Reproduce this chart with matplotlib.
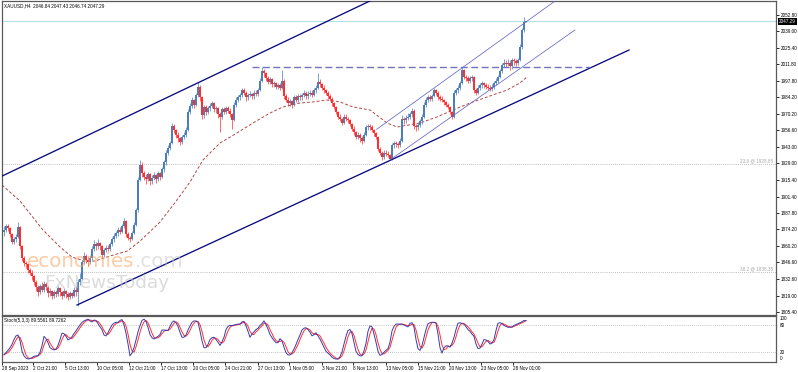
import numpy as np
import matplotlib
matplotlib.use("Agg")
import matplotlib.pyplot as plt
from matplotlib import font_manager
from matplotlib.transforms import blended_transform_factory

# ---------------- data ----------------
symbol = "XAUUSD,H4"
header_ohlc = ["2046.84", "2047.43", "2046.74", "2047.29"]
first_open = 1872.0

closes = [
    1874, 1877, 1875, 1870, 1864, 1866, 1868, 1876, 1860, 1850,
    1846, 1845, 1840, 1838, 1835, 1830, 1826, 1822, 1827, 1824,
    1829, 1826, 1821, 1823, 1819, 1822, 1820, 1825, 1822, 1819,
    1823, 1820, 1818, 1821, 1819, 1824, 1822, 1830, 1833, 1847,
    1852, 1849, 1847, 1850, 1858, 1862, 1860, 1863, 1860, 1853,
    1857, 1859, 1858, 1862, 1866, 1869, 1871, 1874, 1872, 1877,
    1881, 1870, 1867, 1866, 1871, 1878, 1890, 1915, 1928, 1921,
    1918, 1916, 1920, 1914, 1917, 1919, 1916, 1921, 1918, 1924,
    1930, 1938, 1942, 1946, 1960, 1957, 1953, 1950, 1947, 1951,
    1953, 1957, 1972, 1977, 1982, 1978, 1986, 1993, 1984, 1969,
    1976, 1972, 1975, 1977, 1979, 1974, 1975, 1970, 1968, 1974,
    1972, 1975, 1973, 1970, 1965, 1978, 1982, 1984, 1986, 1990,
    1988, 1984, 1986, 1987, 1985, 1988, 1987, 1990, 1998, 2006,
    2004, 2000, 1997, 1999, 1995, 1996, 1993, 1994, 1992, 1998,
    1985, 1982, 1979, 1981, 1978, 1984, 1982, 1985, 1984, 1986,
    1988, 1985, 1987, 1988, 1986, 1990, 1992, 1997, 1995, 1992,
    1990, 1988, 1985, 1983, 1979, 1976, 1972, 1968, 1966, 1963,
    1968, 1966, 1965, 1962, 1958, 1955, 1951, 1953, 1950, 1948,
    1953, 1959, 1960, 1959, 1957, 1954, 1951, 1941, 1938, 1934,
    1938, 1937, 1936, 1933, 1944, 1946, 1945, 1944, 1948, 1966,
    1965, 1967, 1968, 1970, 1973, 1960, 1959, 1961, 1964, 1968,
    1978, 1982, 1984, 1983, 1985, 1990, 1988, 1984, 1983, 1982,
    1980, 1978, 1976, 1972, 1968, 1988, 1990, 1992, 1996, 2007,
    2001, 2000, 1998, 2000, 2001, 1990, 1988, 1992, 1994, 1996,
    1994, 1993, 1992, 1991, 1993, 1996, 1998, 2001, 2006, 2011,
    2013, 2012, 2013, 2010, 2015, 2014, 2013, 2015, 2026, 2040,
    2046.84, 2047.29,
]

highs = [
    1877, 1879, 1879, 1876, 1871, 1868, 1870, 1880, 1877, 1861,
    1852, 1848, 1846, 1842, 1840, 1836, 1832, 1828, 1829, 1830,
    1831, 1830, 1827, 1825, 1824, 1824, 1824, 1827, 1826, 1823,
    1825, 1824, 1822, 1823, 1822, 1826, 1827, 1833, 1838, 1849,
    1855, 1854, 1851, 1853, 1860, 1865, 1864, 1866, 1864, 1861,
    1859, 1861, 1861, 1864, 1868, 1871, 1873, 1876, 1876, 1879,
    1884, 1882, 1872, 1869, 1873, 1880, 1892, 1918, 1932, 1930,
    1923, 1920, 1922, 1921, 1919, 1922, 1920, 1923, 1922, 1926,
    1932, 1940, 1944, 1948, 1963, 1962, 1958, 1955, 1951, 1953,
    1955, 1959, 1974, 1979, 1984, 1983, 1988, 1997, 1994, 1985,
    1978, 1978, 1977, 1979, 1981, 1980, 1977, 1976, 1972, 1976,
    1976, 1977, 1977, 1975, 1971, 1980, 1984, 1986, 1988, 1992,
    1992, 1989, 1988, 1989, 1988, 1990, 1990, 1992, 2000, 2009,
    2008, 2005, 2002, 2001, 2000, 1998, 1997, 1996, 1996, 2007,
    1999, 1987, 1984, 1983, 1982, 1986, 1986, 1987, 1987, 1988,
    1990, 1989, 1989, 1990, 1990, 1992, 1994, 2004, 1999, 1996,
    1994, 1991, 1989, 1987, 1984, 1980, 1977, 1973, 1970, 1967,
    1970, 1970, 1968, 1966, 1963, 1960, 1956, 1955, 1954, 1952,
    1955, 1961, 1962, 1962, 1961, 1958, 1955, 1952, 1943, 1939,
    1940, 1940, 1939, 1937, 1946, 1948, 1948, 1947, 1950, 1969,
    1968, 1969, 1971, 1972, 1975, 1974, 1962, 1963, 1966, 1970,
    1980, 1984, 1986, 1986, 1987, 1992, 1991, 1989, 1986, 1985,
    1983, 1981, 1979, 1977, 1973, 1990, 1992, 1994, 1998, 2009,
    2008, 2003, 2002, 2002, 2003, 2002, 1992, 1994, 1996, 1998,
    1997, 1996, 1995, 1994, 1995, 1998, 2000, 2003, 2008, 2013,
    2016, 2015, 2016, 2015, 2017, 2017, 2016, 2017, 2028, 2042,
    2051, 2047.43,
]

lows = [
    1869, 1872, 1873, 1868, 1862, 1862, 1864, 1867, 1858, 1848,
    1844, 1842, 1838, 1836, 1832, 1828, 1823, 1819, 1820, 1822,
    1822, 1824, 1818, 1819, 1816, 1817, 1818, 1819, 1819, 1816,
    1818, 1817, 1815, 1816, 1817, 1818, 1819, 1810, 1828, 1832,
    1845, 1846, 1844, 1845, 1849, 1856, 1857, 1858, 1857, 1851,
    1851, 1855, 1856, 1856, 1860, 1864, 1867, 1869, 1870, 1871,
    1875, 1868, 1865, 1864, 1865, 1870, 1877, 1889, 1914, 1918,
    1915, 1912, 1914, 1911, 1912, 1915, 1913, 1914, 1915, 1917,
    1922, 1928, 1936, 1940, 1945, 1954, 1950, 1947, 1944, 1945,
    1949, 1951, 1956, 1970, 1975, 1975, 1977, 1984, 1981, 1966,
    1967, 1969, 1970, 1973, 1975, 1972, 1971, 1967, 1955, 1966,
    1970, 1970, 1971, 1968, 1958, 1964, 1976, 1980, 1982, 1984,
    1986, 1981, 1982, 1984, 1983, 1983, 1985, 1985, 1989, 1997,
    2001, 1998, 1995, 1995, 1993, 1993, 1991, 1991, 1990, 1991,
    1983, 1980, 1977, 1977, 1975, 1977, 1980, 1980, 1982, 1982,
    1984, 1983, 1983, 1985, 1984, 1985, 1988, 1991, 1993, 1990,
    1988, 1986, 1983, 1981, 1977, 1974, 1970, 1966, 1964, 1961,
    1962, 1964, 1963, 1960, 1956, 1953, 1949, 1949, 1947, 1945,
    1947, 1952, 1957, 1957, 1955, 1952, 1949, 1939, 1936, 1932,
    1933, 1935, 1934, 1931.5, 1932, 1942, 1943, 1942, 1943, 1947,
    1962, 1963, 1965, 1966, 1968, 1958, 1956, 1957, 1959, 1962,
    1967, 1976, 1980, 1981, 1981, 1984, 1986, 1982, 1981, 1980,
    1978, 1976, 1974, 1970, 1966, 1967, 1986, 1988, 1990, 1995,
    1999, 1998, 1996, 1996, 1998, 1988, 1986, 1987, 1990, 1992,
    1992, 1991, 1990, 1989, 1989, 1991, 1994, 1996, 2000, 2004,
    2009, 2009, 2010, 2007, 2008, 2011, 2010, 2011, 2014, 2024,
    2038, 2046.74,
]

# moving average (dashed) sampled along the chart: bar position / value
ma_bars = [-1, 8, 19.5, 28, 34, 40.5, 45.5, 53, 61.5, 68, 78, 86.5, 93, 99.5,
           108, 116.5, 124.5, 133, 139.5, 148, 154.5, 161.5, 168, 174.5, 183,
           191.5, 196.5, 208, 216.5, 224.5, 233, 241.5, 251.5, 258, 261.5]
ma_values = [1911, 1897.8, 1873.6, 1859.5, 1851.1, 1847.8, 1847.8, 1852, 1856,
             1864.4, 1880.2, 1898.6, 1913.6, 1931.9, 1946, 1954.4, 1962.7, 1971,
             1976, 1979.3, 1980.2, 1981.8, 1980.2, 1976, 1973.5, 1962.7, 1959.3,
             1962.7, 1967.7, 1973.5, 1979.3, 1984.3, 1990.1, 1996, 2001]

stoch_k = [
    15, 19, 24, 30, 37, 48, 56, 58, 46, 22, 12, 7, 5, 6, 8, 11, 12, 12, 20, 34,
    55, 50, 41, 30, 27, 25, 27, 35, 48, 62, 61, 55, 47, 50, 54, 61, 67, 74, 80, 86,
    89, 91, 93, 89, 87, 91, 90, 83, 76, 70, 58, 56, 63, 72, 80, 84, 86, 86, 90, 92,
    80, 62, 38, 12, 18, 30, 47, 65, 79, 90, 93, 88, 75, 59, 52, 49, 52, 55, 59, 69,
    69, 68, 68, 77, 86, 89, 85, 77, 64, 53, 53, 58, 69, 78, 86, 89, 89, 86, 67, 45,
    30, 30, 37, 48, 52, 53, 48, 42, 35, 43, 53, 70, 77, 79, 79, 80, 81, 82, 82, 87,
    88, 78, 66, 53, 60, 65, 70, 73, 79, 83, 89, 81, 71, 59, 52, 46, 41, 41, 50, 45,
    31, 19, 14, 14, 19, 27, 37, 48, 58, 69, 73, 74, 70, 64, 56, 59, 63, 56, 49, 40,
    31, 22, 18, 14, 9, 6, 5, 5, 10, 21, 38, 55, 68, 70, 61, 41, 22, 15, 12, 12,
    23, 40, 66, 78, 76, 60, 42, 22, 13, 15, 20, 24, 28, 42, 67, 77, 82, 82, 82, 82,
    80, 78, 76, 84, 85, 75, 48, 28, 24, 35, 53, 70, 83, 85, 86, 86, 84, 60, 30, 18,
    30, 34, 34, 31, 40, 53, 70, 84, 85, 83, 82, 76, 70, 66, 60, 55, 38, 28, 29, 38,
    48, 47, 44, 38, 40, 48, 68, 84, 85, 83, 79, 77, 75, 75, 76, 79, 81, 83, 85, 87,
    90, 89.5561,
]
stoch_d = [
    14, 17, 19, 24, 30, 38, 47, 54, 53, 42, 27, 14, 8, 6, 6, 8, 10, 12, 15, 22,
    36, 46, 49, 40, 33, 27, 26, 29, 37, 48, 57, 59, 54, 51, 50, 55, 61, 67, 74, 80,
    85, 89, 91, 91, 90, 89, 89, 88, 83, 76, 68, 61, 59, 64, 72, 79, 83, 85, 87, 89,
    87, 78, 60, 37, 23, 20, 32, 47, 64, 78, 87, 90, 85, 74, 62, 53, 51, 52, 55, 61,
    66, 69, 68, 71, 77, 84, 87, 84, 75, 65, 57, 55, 60, 68, 78, 84, 88, 88, 81, 66,
    47, 35, 32, 38, 46, 51, 51, 48, 42, 40, 44, 55, 67, 75, 78, 79, 80, 81, 82, 84,
    86, 84, 77, 66, 60, 59, 65, 69, 74, 78, 84, 84, 80, 70, 61, 52, 46, 43, 44, 45,
    42, 32, 21, 16, 16, 20, 28, 37, 48, 58, 67, 72, 72, 69, 63, 60, 59, 59, 56, 48,
    40, 31, 24, 18, 14, 10, 7, 5, 7, 12, 23, 38, 54, 64, 66, 57, 41, 26, 16, 13,
    16, 25, 43, 61, 73, 71, 59, 41, 26, 17, 16, 20, 24, 31, 46, 62, 75, 80, 82, 82,
    81, 80, 78, 79, 82, 81, 69, 50, 33, 29, 37, 53, 69, 79, 85, 86, 85, 77, 58, 36,
    26, 27, 33, 33, 35, 41, 54, 69, 80, 84, 83, 80, 76, 71, 65, 60, 51, 40, 32, 32,
    38, 44, 46, 43, 41, 42, 52, 67, 79, 84, 82, 80, 77, 76, 75, 77, 79, 81, 83, 85,
    87, 89.7262,
]

price_ticks = [2052.80, 2039.00, 2025.40, 2011.80, 1997.80, 1984.20, 1970.20,
               1956.60, 1943.00, 1929.00, 1915.40, 1901.40, 1887.80, 1874.20,
               1860.20, 1846.60, 1832.60, 1819.00, 1805.40]
current_price = 2047.29

date_labels = ["28 Sep 2023", "2 Oct 21:00", "5 Oct 13:00", "10 Oct 05:00",
               "12 Oct 21:00", "17 Oct 13:00", "20 Oct 05:00", "24 Oct 21:00",
               "27 Oct 13:00", "1 Nov 05:00", "3 Nov 21:00", "8 Nov 13:00",
               "13 Nov 05:00", "15 Nov 21:00", "20 Nov 13:00", "23 Nov 05:00",
               "28 Nov 01:00"]
date_bars = [-1, 14.5, 30.5, 46.5, 62.5, 78.5, 94.5, 110.5, 127, 142.5, 159,
             174.5, 191, 207, 222.5, 238.5, 254.5]

# drawn objects (bar position, price)
upper_channel_bars = [-2, 190]
upper_channel_prices = [1917.7, 2069.8]
lower_channel_bars = [36.5, 312.5]
lower_channel_prices = [1811.2, 2023.4]
inner_upper_bars = [186.3, 290]
inner_upper_prices = [1957.4, 2081.5]
inner_lower_bars = [193, 285.5]
inner_lower_prices = [1931.9, 2040.1]
resistance_bars = [124, 293]
resistance_price = 2009.3
fib_names = ["23.6", "38.2"]
fib_prices = [1928.85, 1838.35]

# ---------------- styling ----------------
names = {f.name for f in font_manager.fontManager.ttflist}
if "Liberation Sans Narrow" in names:
    FONT, FS = "Liberation Sans Narrow", 4.0
else:
    FONT, FS = "Liberation Sans", 3.3
plt.rcParams["font.family"] = [FONT, "DejaVu Sans"]

UP, DOWN = "#4a7fb8", "#ff2d2d"
FRAME = "#5a5a5a"

W, H = 798, 372
fig = plt.figure(figsize=(W / 100, H / 100), dpi=100)
fig.patch.set_facecolor("white")


def fx(px):
    return px / W


def fy(py):
    return 1 - py / H


ax = fig.add_axes([fx(2), fy(314.5), fx(776) - fx(2), fy(1) - fy(314.5)])
ax2 = fig.add_axes([fx(2), fy(361.5), fx(776) - fx(2), fy(315.5) - fy(361.5)],
                   sharex=ax)

for a in (ax, ax2):
    a.set_facecolor("white")
    for s in a.spines.values():
        s.set_color(FRAME)
        s.set_linewidth(0.9)

# candles
c = np.array(closes, dtype=float)
o = np.array([first_open] + closes[:-1], dtype=float)
h = np.array(highs, dtype=float)
l = np.array(lows, dtype=float)
idx = np.arange(len(c))
col = np.where(c >= o, UP, DOWN)
ax.vlines(idx, l, h, colors=col, linewidth=0.5, zorder=3)
ax.bar(idx, np.maximum(np.abs(c - o), 0.3), bottom=np.minimum(o, c), width=0.6,
       color=col, linewidth=0, zorder=3)

# moving average
ax.plot(ma_bars, ma_values, color="#b04a44", lw=0.7, ls=(0, (3, 2)), zorder=2)

# horizontal levels
ax.axhline(current_price, color="#b2dfe8", lw=0.8, zorder=1)
for nm, p in zip(fib_names, fib_prices):
    ax.axhline(p, color="#a8a8a8", lw=0.6, ls=(0, (1, 1.5)), zorder=1)
    ax.text(384.5, p + 0.6, f"{nm} @ {p:.2f}", ha="right", va="bottom",
            fontsize=FS, color="#a8a8a8", zorder=4)

# trend lines / channels
ax.plot(upper_channel_bars, upper_channel_prices, color="#0a0a80", lw=0.95, zorder=4)
ax.plot(lower_channel_bars, lower_channel_prices, color="#0a0a80", lw=0.95, zorder=4)
ax.plot(inner_upper_bars, inner_upper_prices, color="#6464c8", lw=0.55, zorder=4)
ax.plot(inner_lower_bars, inner_lower_prices, color="#6464c8", lw=0.55, zorder=4)
ax.plot(resistance_bars, [resistance_price] * 2, color="#7272c0", lw=1.0,
        ls=(0, (5, 2.5)), zorder=4)

ax.set_xlim(-1, 386)
ax.set_ylim(1803.3, 2064.2)
ax.yaxis.tick_right()
ax.set_yticks(price_ticks)
ax.set_yticklabels([f"{v:.2f}" for v in price_ticks])
ax.tick_params(axis="y", direction="out", length=2.5, width=0.6, pad=1.2,
               labelsize=FS, colors="black")
ax.tick_params(axis="x", bottom=False, labelbottom=False)

# current price label
tr = blended_transform_factory(ax.transAxes, ax.transData)
ax.text(1.004, current_price, f"{current_price:.2f}", transform=tr, ha="left",
        va="center", fontsize=FS, color="white", zorder=6, clip_on=False,
        bbox=dict(boxstyle="square,pad=0.2", fc="black", ec="none"))

# header
fig.text(fx(3.5), fy(5.5), symbol + "  " + " ".join(header_ohlc), fontsize=FS,
         va="center", ha="left", color="black")

# watermark
t1 = fig.text(fx(27), fy(267), "economies", fontsize=14.3, color="#f6a15a",
              alpha=0.55, family="DejaVu Sans", va="baseline", ha="left", zorder=0.5)
fig.canvas.draw()
bb = t1.get_window_extent(renderer=fig.canvas.get_renderer())
fig.text(bb.x1 / W, fy(267), ".com", fontsize=14.3, color="#c8c8c8", alpha=0.55,
         family="DejaVu Sans", va="baseline", ha="left", zorder=0.5)
fig.text(fx(44), fy(288), "FxNewsToday", fontsize=13.3, color="#c4c4c4", alpha=0.6,
         family="DejaVu Sans", va="baseline", ha="left", zorder=0.5)

# stochastic panel
ax2.plot(idx, stoch_d, color="#ff3030", lw=0.7, zorder=3)
ax2.plot(idx, stoch_k, color="#3a3ab0", lw=0.7, zorder=4)
for lev in (80, 20):
    ax2.axhline(lev, color="#b0b0b0", lw=0.6, ls=(0, (1, 1.5)), zorder=1)
ax2.set_ylim(-0.5, 101)
ax2.yaxis.tick_right()
ax2.set_yticks([100, 80, 20, 0])
ax2.set_yticklabels(["100", "80", "20", "0"])
ax2.tick_params(axis="y", direction="out", length=0, pad=2.5, labelsize=FS)
ylbls = ax2.get_yticklabels()
ylbls[0].set_va("top")
ylbls[-1].set_va("bottom")
ax2.set_xticks(date_bars)
ax2.set_xticklabels(date_labels)
ax2.tick_params(axis="x", direction="out", length=2.0, width=0.6, pad=1.0,
                labelsize=FS)
for lbl in ax2.get_xticklabels():
    lbl.set_ha("left")
fig.text(fx(3.5), fy(320.5), "Stoch(5,3,3) 89.5561 89.7262", fontsize=FS,
         va="center", ha="left", color="black")

fig.savefig("out.png", dpi=100, facecolor="white")
